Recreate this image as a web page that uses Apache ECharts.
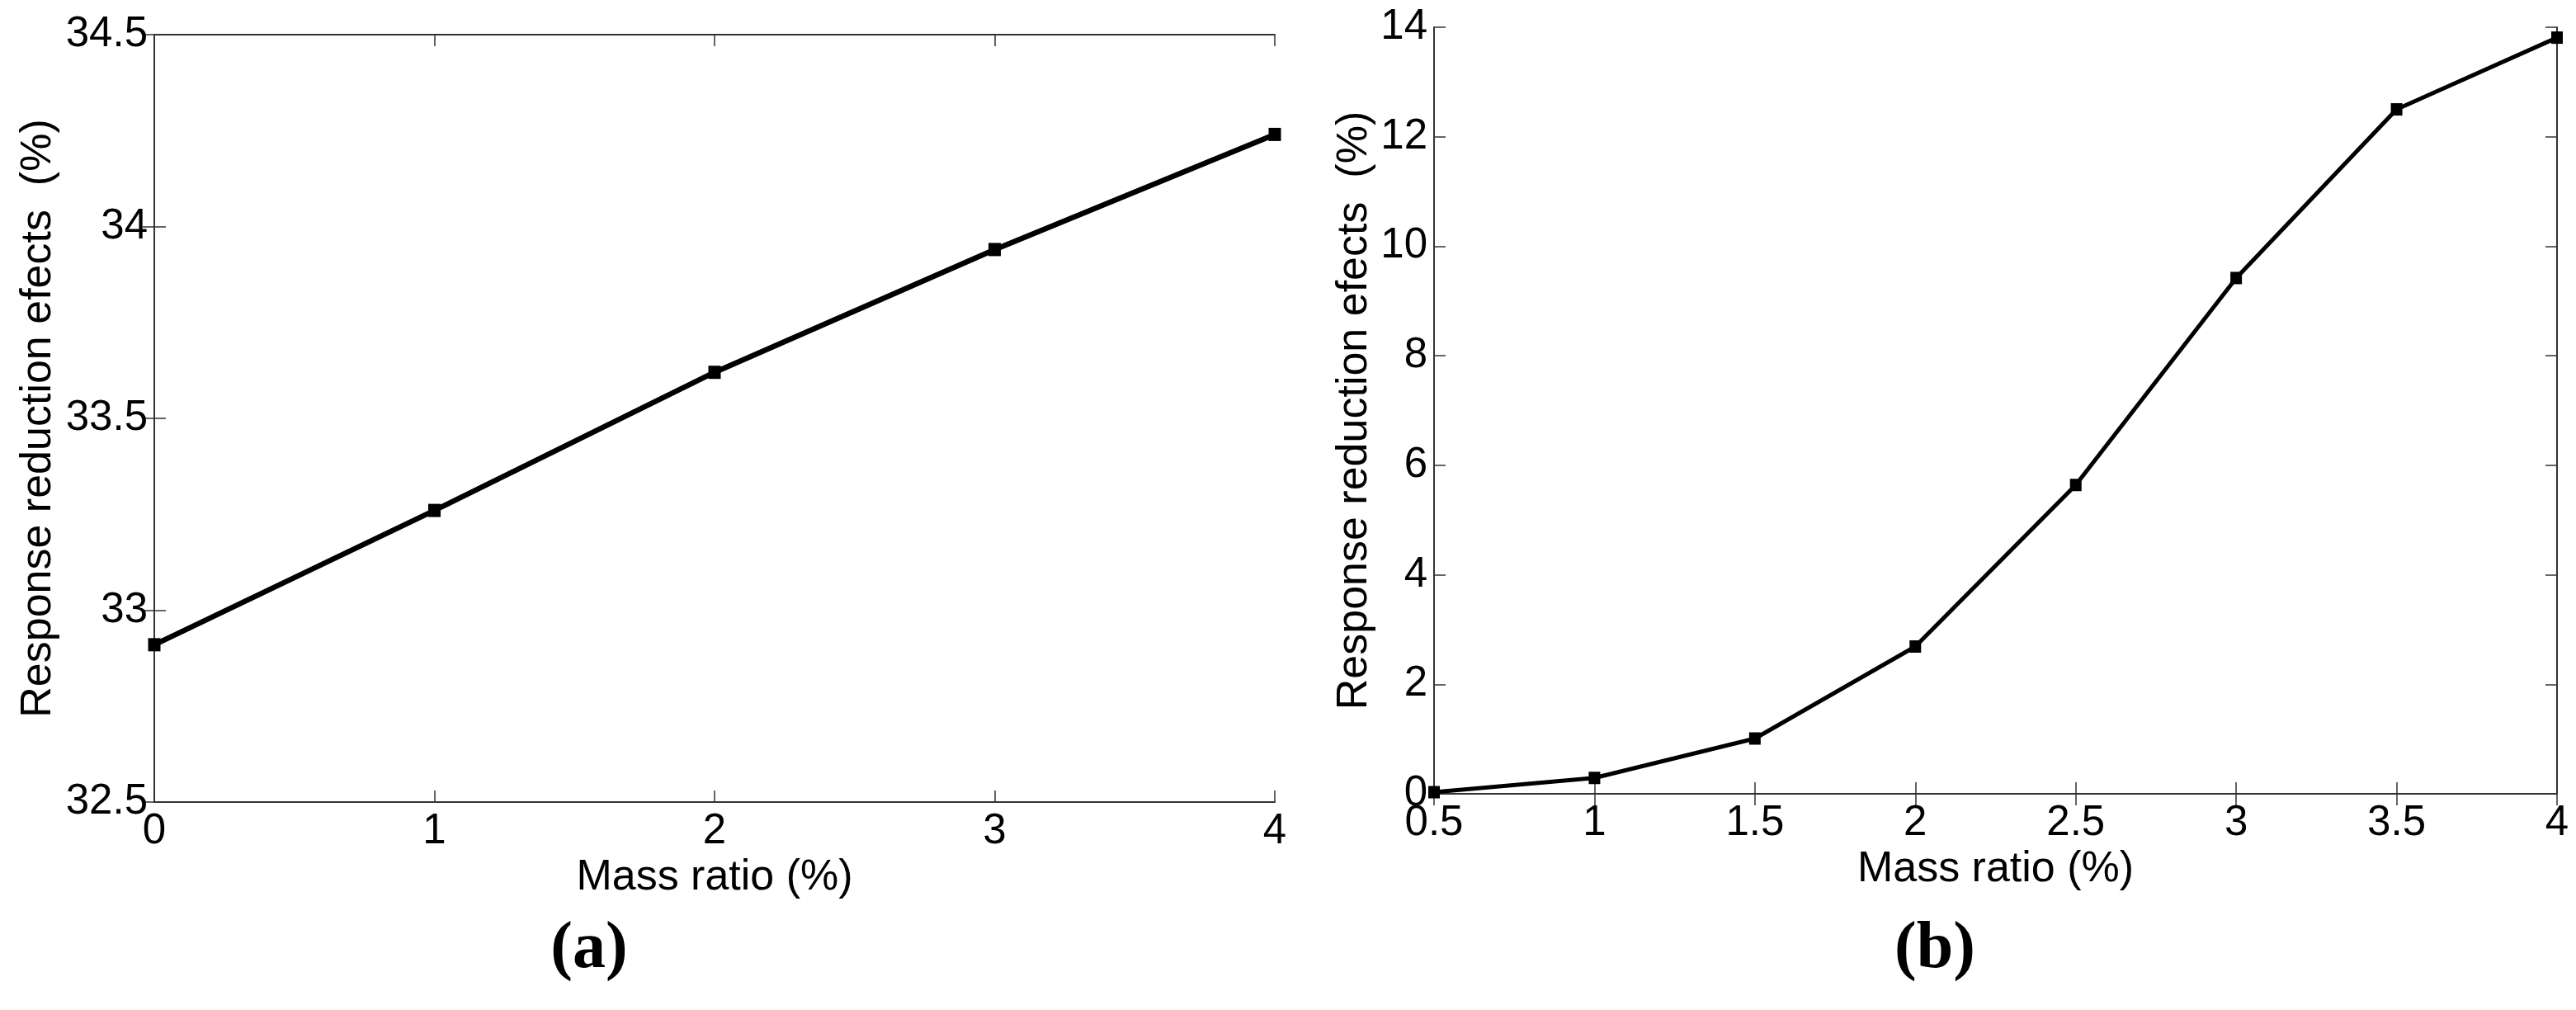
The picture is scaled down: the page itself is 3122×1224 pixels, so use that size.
<!DOCTYPE html>
<html>
<head>
<meta charset="utf-8">
<script src="https://cdn.jsdelivr.net/npm/echarts@6/dist/echarts.min.js"></script>
<style>
  html, body { margin: 0; padding: 0; background: #fff; }
  #chart { width: 3122px; height: 1224px; }
</style>
</head>
<body>
<div id="chart"></div>
<script>
// panel (a)
const massA = [0, 1, 2, 3, 4];
const effectA = [32.91, 33.26, 33.62, 33.94, 34.24];
// panel (b)
const massB = [0.5, 1, 1.5, 2, 2.5, 3, 3.5, 4];
const effectB = [0.03, 0.29, 1.01, 2.69, 5.64, 9.42, 12.5, 13.81];

const yName = 'Response reduction efects  (%)';
const xName = 'Mass ratio (%)';
const sans = 'Liberation Sans, Arial, sans-serif';

const chart = echarts.init(document.querySelector('#chart'));

function xAx(gridIndex, min, max, interval, top) {
  return {
    type: 'value', gridIndex, min, max, interval,
    position: top ? 'top' : 'bottom',
    name: top ? '' : xName,
    nameLocation: 'middle',
    nameGap: 54,
    nameTextStyle: { fontSize: 52, fontFamily: sans, color: '#000' },
    axisLine: { show: true, lineStyle: { color: '#333', width: 2 } },
    axisTick: { show: true, inside: true, length: 14, lineStyle: { color: '#333', width: 1.5 } },
    axisLabel: { show: !top, fontSize: 51, fontFamily: sans, color: '#000', margin: 10 },
    splitLine: { show: false }
  };
}

function yAx(gridIndex, min, max, interval, right, gap) {
  return {
    type: 'value', gridIndex, min, max, interval,
    position: right ? 'right' : 'left',
    name: right ? '' : yName,
    nameLocation: 'middle',
    nameGap: gap,
    nameTextStyle: { fontSize: 52, fontFamily: sans, color: '#000' },
    axisLine: { show: true, lineStyle: { color: '#333', width: 2 } },
    axisTick: { show: true, inside: true, length: 14, lineStyle: { color: '#333', width: 1.5 } },
    axisLabel: { show: !right, fontSize: 51, fontFamily: sans, color: '#000', margin: 8 },
    splitLine: { show: false }
  };
}

function panelTitle(letter, x) {
  return {
    text: '{p|(}{b|' + letter + '}{p|)}',
    left: x,
    top: 1106,
    textAlign: 'center',
    textStyle: {
      rich: {
        p: { fontSize: 80, fontFamily: 'Liberation Serif, Times New Roman, serif', color: '#000' },
        b: { fontSize: 80, fontWeight: 'bold', fontFamily: 'Liberation Serif, Times New Roman, serif', color: '#000' }
      }
    }
  };
}

chart.setOption({
  animation: false,
  backgroundColor: '#fff',
  title: [panelTitle('a', 709), panelTitle('b', 2340)],
  grid: [
    { left: 187, top: 42, width: 1358, height: 930 },
    { left: 1738, top: 33, width: 1361, height: 929 }
  ],
  xAxis: [
    xAx(0, 0, 4, 1, false),
    xAx(0, 0, 4, 1, true),
    xAx(1, 0.5, 4, 0.5, false),
    xAx(1, 0.5, 4, 0.5, true)
  ],
  yAxis: [
    yAx(0, 32.5, 34.5, 0.5, false, 114),
    yAx(0, 32.5, 34.5, 0.5, true, 0),
    yAx(1, 0, 14, 2, false, 70),
    yAx(1, 0, 14, 2, true, 0)
  ],
  series: [
    {
      type: 'line', xAxisIndex: 0, yAxisIndex: 0,
      data: massA.map((m, i) => [m, effectA[i]]),
      symbol: 'rect', symbolSize: [15, 16],
      lineStyle: { color: '#000', width: 6.5 },
      itemStyle: { color: '#000' }
    },
    {
      type: 'line', xAxisIndex: 2, yAxisIndex: 2,
      data: massB.map((m, i) => [m, effectB[i]]),
      symbol: 'rect', symbolSize: [14, 15],
      lineStyle: { color: '#000', width: 5 },
      itemStyle: { color: '#000' }
    }
  ]
});
</script>
</body>
</html>
